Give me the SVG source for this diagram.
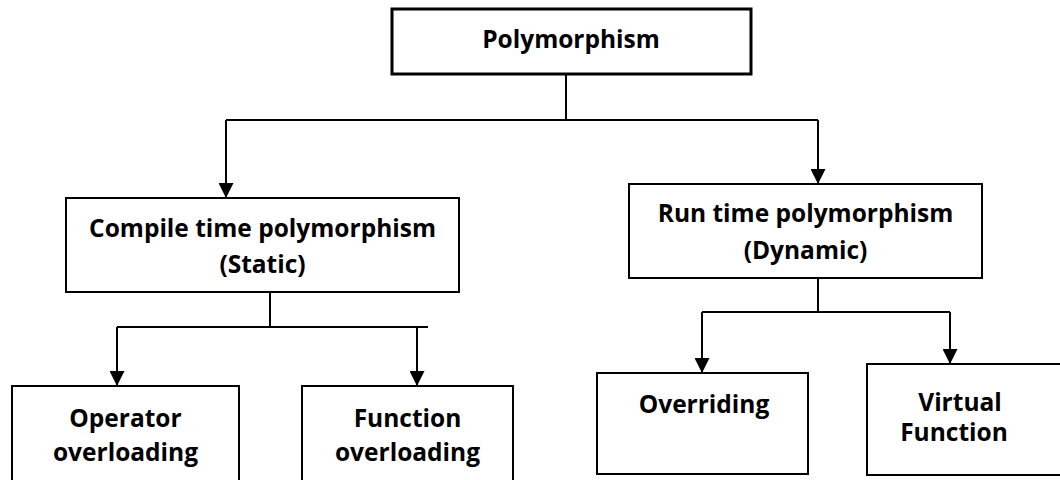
<svg xmlns="http://www.w3.org/2000/svg" width="1060" height="480" viewBox="0 0 1060 480">
  <style>
    .box { fill: #ffffff; stroke: #000000; stroke-width: 2; }
    .box.root { stroke-width: 3; }
    .label { font-family: "Open Sans", "Liberation Sans", sans-serif; font-weight: 700; font-size: 24.5px; fill: #000000; text-anchor: middle; }
    .wire { fill: none; stroke: #000000; stroke-width: 2; }
  </style>
  <defs>
    <marker id="arrow" markerUnits="userSpaceOnUse" markerWidth="15" markerHeight="15" refX="15" refY="7.5" orient="auto">
      <path d="M0,0 L15,7.5 L0,15 Z" fill="#000000"/>
    </marker>
  </defs>

  <rect width="1060" height="480" fill="#ffffff"/>

  <!-- connectors -->
  <g id="connectors">
    <path class="wire" d="M566,65 V120"/>
    <path class="wire" d="M226,120 H818"/>
    <path class="wire" d="M226,120 V198" marker-end="url(#arrow)"/>
    <path class="wire" d="M818,120 V184" marker-end="url(#arrow)"/>

    <path class="wire" d="M270,292 V327"/>
    <path class="wire" d="M117,327 H428"/>
    <path class="wire" d="M117,327 V386" marker-end="url(#arrow)"/>
    <path class="wire" d="M417,327 V386" marker-end="url(#arrow)"/>

    <path class="wire" d="M818,278 V312"/>
    <path class="wire" d="M702,312 H950"/>
    <path class="wire" d="M702,312 V373" marker-end="url(#arrow)"/>
    <path class="wire" d="M950,312 V364" marker-end="url(#arrow)"/>
  </g>

  <!-- nodes -->
  <g id="polymorphism">
    <rect class="box root" x="392" y="9" width="359" height="65"/>
    <text class="label" x="571" y="48">Polymorphism</text>
  </g>

  <g id="compile-time">
    <rect class="box" x="66" y="198" width="393" height="94"/>
    <text class="label" x="262.5" y="237">Compile time polymorphism</text>
    <text class="label" x="262.5" y="273">(Static)</text>
  </g>

  <g id="run-time">
    <rect class="box" x="629" y="184" width="353" height="94"/>
    <text class="label" x="805.5" y="222">Run time polymorphism</text>
    <text class="label" x="805.5" y="259">(Dynamic)</text>
  </g>

  <g id="operator-overloading">
    <rect class="box" x="12" y="386" width="227" height="100"/>
    <text class="label" x="125.5" y="427">Operator</text>
    <text class="label" x="125.5" y="461">overloading</text>
  </g>

  <g id="function-overloading">
    <rect class="box" x="302" y="386" width="211" height="100"/>
    <text class="label" x="407.5" y="427">Function</text>
    <text class="label" x="407.5" y="461">overloading</text>
  </g>

  <g id="overriding">
    <rect class="box" x="597" y="373" width="211" height="101"/>
    <text class="label" x="704" y="413">Overriding</text>
  </g>

  <g id="virtual-function">
    <rect class="box" x="867" y="364" width="200" height="111"/>
    <text class="label" x="960" y="411">Virtual</text>
    <text class="label" x="954" y="441">Function</text>
  </g>
</svg>
